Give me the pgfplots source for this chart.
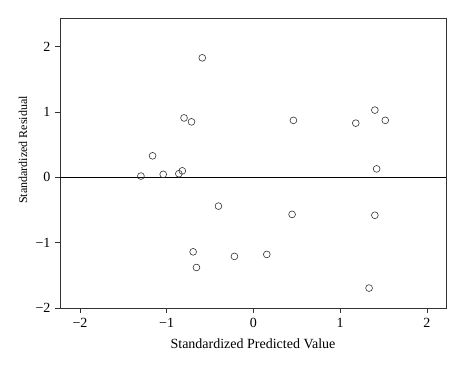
\documentclass[border=0pt]{standalone}
\usepackage{pgfplots}
\pgfplotsset{compat=1.18}
\usepackage{fontspec}
\setmainfont{Liberation Serif}
\begin{document}
\begin{tikzpicture}
\begin{axis}[
  scale only axis,
  width=386pt, height=290pt,
  xmin=-2.23, xmax=2.22,
  ymin=-2, ymax=2.44,
  xtick={-2,-1,0,1,2}, ytick={-2,-1,0,1,2},
  xticklabels={−2,−1,0,1,2},
  yticklabels={−2,−1,0,1,2},
  tick align=outside,
  major tick length=5pt,
  xtick pos=bottom, ytick pos=left,
  axis line style={draw=black!80, line width=0.6pt},
  tick style={black!80, line width=0.6pt},
  ticklabel style={font=\fontsize{14}{16}\selectfont},
  xticklabel style={yshift=-2pt},
  yticklabel style={xshift=-1pt},
  xlabel={Standardized Predicted Value},
  ylabel={Standardized Residual},
  xlabel style={font=\fontsize{14}{16}\selectfont, yshift=-4pt},
  ylabel style={font=\fontsize{12}{14}\selectfont, at={(axis description cs:-0.096,0.545)}, anchor=center},
]
\addplot[black, line width=0.6pt, forget plot] coordinates {(-2.23,0) (2.22,0)};
\addplot[only marks, mark=o, mark size=3.4pt, mark options={draw=black!80, line width=0.6pt}] coordinates {
(-1.297,0.02)
(-1.163,0.33)
(-1.04,0.046)
(-0.86,0.056)
(-0.82,0.10)
(-0.80,0.91)
(-0.714,0.85)
(-0.59,1.83)
(0.461,0.873)
(1.18,0.83)
(1.40,1.03)
(1.52,0.873)
(1.42,0.13)
(-0.403,-0.44)
(-0.695,-1.14)
(-0.657,-1.38)
(-0.219,-1.21)
(0.154,-1.18)
(0.446,-0.567)
(1.40,-0.58)
(1.333,-1.695)
};
\end{axis}
\pgfresetboundingbox
\path[use as bounding box] (current axis.south west) ++(-60pt,-60pt) rectangle ([shift={(26pt,18pt)}]current axis.north east);
\end{tikzpicture}
\end{document}
